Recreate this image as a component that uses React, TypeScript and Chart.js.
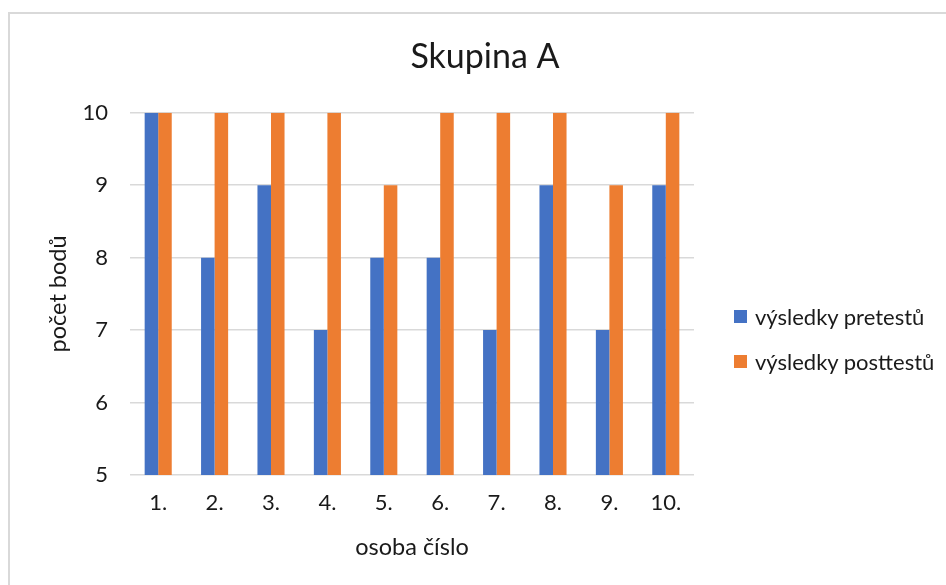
import React, { useEffect, useRef } from "react";
import { Chart, registerables } from "chart.js";

Chart.register(...registerables);

const categories = ["1.", "2.", "3.", "4.", "5.", "6.", "7.", "8.", "9.", "10."];
const pretest = [10, 8, 9, 7, 8, 8, 7, 9, 7, 9];
const posttest = [10, 10, 10, 10, 9, 10, 10, 10, 9, 10];
const seriesNames = ["výsledky pretestů", "výsledky posttestů"];
const seriesColors = ["#4472C4", "#ED7D31"];
const titleText = "Skupina A";
const xTitle = "osoba číslo";
const yTitle = "počet bodů";

const FONT = "Lato, 'Noto Sans', sans-serif";
const TEXT = "#1a1a1a";

export default function App() {
  const ref = useRef<HTMLCanvasElement | null>(null);

  useEffect(() => {
    if (!ref.current) return;
    const chart = new Chart(ref.current, {
      type: "bar",
      data: {
        labels: categories,
        datasets: [
          { label: seriesNames[0], data: pretest, backgroundColor: seriesColors[0], categoryPercentage: 0.48, barPercentage: 1 },
          { label: seriesNames[1], data: posttest, backgroundColor: seriesColors[1], categoryPercentage: 0.48, barPercentage: 1 },
        ],
      },
      options: {
        responsive: false,
        animation: false,
        layout: { padding: { left: 24, right: 0, top: 0, bottom: 0 } },
        plugins: {
          legend: { display: false },
          tooltip: { enabled: false },
          title: {
            display: true,
            text: titleText,
            color: TEXT,
            font: { family: FONT, size: 34, weight: "normal" },
            padding: { top: 37, bottom: 35 },
          },
        },
        scales: {
          x: {
            grid: { display: false, drawTicks: false },
            border: { display: false },
            ticks: { color: TEXT, font: { family: FONT, size: 22 }, padding: 15 },
            title: {
              display: true,
              text: xTitle,
              color: TEXT,
              font: { family: FONT, size: 23.5 },
              padding: { top: 0, bottom: 23 },
            },
            afterFit: (s: any) => { s.height = 110; },
          },
          y: {
            min: 5,
            max: 10,
            beginAtZero: false,
            ticks: { stepSize: 1, color: TEXT, font: { family: FONT, size: 22 }, padding: 22 },
            grid: { color: "#d9d9d9", lineWidth: 1.5, drawTicks: false },
            border: { display: false },
            title: {
              display: true,
              text: yTitle,
              color: TEXT,
              font: { family: FONT, size: 23.5 },
              padding: { top: 20, bottom: 0 },
            },
            afterFit: (s: any) => { s.width = 106; },
          },
          spacer: {
            type: "linear",
            position: "right",
            display: true,
            grid: { display: false, drawTicks: false },
            border: { display: false },
            ticks: { display: false },
            afterFit: (s: any) => { s.width = 252; },
          },
        },
      },
    });
    return () => chart.destroy();
  }, []);

  return (
    <div style={{ position: "absolute", left: 0, top: 0, width: 946, height: 585, overflow: "hidden", background: "#fff" }}>
      <div style={{ position: "absolute", left: 8, top: 12, width: 960, height: 600, border: "2px solid #d9d9d9", boxSizing: "border-box" }} />
      <canvas ref={ref} width={946} height={585} style={{ position: "absolute", left: 0, top: 0 }} />
      {seriesNames.map((name, i) => (
        <div
          key={name}
          style={{
            position: "absolute",
            left: 734,
            top: 302 + i * 45,
            height: 28,
            display: "flex",
            alignItems: "center",
            fontFamily: FONT,
            fontSize: 22,
            color: TEXT,
            whiteSpace: "nowrap",
          }}
        >
          <span style={{ display: "inline-block", width: 13, height: 13, background: seriesColors[i], marginRight: 8 }} />
          {name}
        </div>
      ))}
    </div>
  );
}
